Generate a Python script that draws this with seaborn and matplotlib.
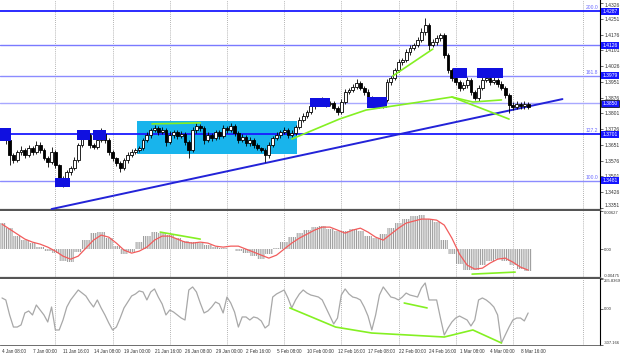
import numpy as np
import pandas as pd
import matplotlib.pyplot as plt
import seaborn as sns

sns.set_style("white")
plt.rcParams['font.family'] = ['Liberation Sans', 'DejaVu Sans']
plt.rcParams['hatch.linewidth'] = 0.7

# GBPUSD H4 - closes, one per 2 bars
closes = [1.3698, 1.3674, 1.3603, 1.3579, 1.3617, 1.3627, 1.3603, 1.3636, 1.3617, 1.3651,
          1.3627, 1.3589, 1.3570, 1.3617, 1.3556, 1.3494, 1.3475, 1.3522, 1.3541, 1.3579,
          1.3651, 1.3689, 1.3698, 1.3651, 1.3641, 1.3674, 1.3703, 1.3674, 1.3617, 1.3589,
          1.3565, 1.3541, 1.3579, 1.3603, 1.3617, 1.3627, 1.3636, 1.3674, 1.3698, 1.3722,
          1.3731, 1.3712, 1.3722, 1.3665, 1.3698, 1.3712, 1.3693, 1.3703, 1.3665, 1.3627,
          1.3722, 1.3741, 1.3731, 1.3674, 1.3698, 1.3684, 1.3712, 1.3693, 1.3731, 1.3722,
          1.3741, 1.3708, 1.3674, 1.3689, 1.3660, 1.3674, 1.3651, 1.3636, 1.3627, 1.3603,
          1.3651, 1.3684, 1.3698, 1.3712, 1.3722, 1.3698, 1.3708, 1.3736, 1.3770, 1.3789,
          1.3808, 1.3836, 1.3855, 1.3860, 1.3865, 1.3846, 1.3850, 1.3827, 1.3808, 1.3855,
          1.3903, 1.3912, 1.3927, 1.3946, 1.3922, 1.3903, 1.3874, 1.3846, 1.3855, 1.3841,
          1.3865, 1.3950, 1.3969, 1.4007, 1.4045, 1.4055, 1.4093, 1.4112, 1.4126, 1.4150,
          1.4188, 1.4221, 1.4126, 1.4140, 1.4160, 1.4174, 1.4079, 1.4007, 1.3969, 1.3950,
          1.3922, 1.3936, 1.3960, 1.3903, 1.3874, 1.3922, 1.3960, 1.3969, 1.3950, 1.3960,
          1.3941, 1.3922, 1.3888, 1.3841, 1.3831, 1.3846, 1.3836, 1.3846, 1.3831]
# wick lengths beyond the body, in pips
upper_wick = [10, 15, 20, 8, 12, 18, 10, 14, 8, 20,
              12, 10, 8, 22, 10, 6, 10, 12, 8, 14,
              10, 14, 8, 12, 10, 16, 29, 10, 8, 12,
              6, 8, 10, 12, 14, 10, 12, 8, 14, 10,
              14, 10, 12, 8, 18, 12, 10, 12, 10, 8,
              12, 16, 10, 8, 14, 10, 12, 8, 14, 12,
              14, 10, 8, 12, 10, 14, 8, 10, 6, 8,
              12, 10, 14, 12, 16, 10, 12, 10, 14, 12,
              10, 12, 14, 12, 16, 10, 12, 8, 10, 14,
              12, 10, 14, 18, 10, 8, 12, 10, 14, 8,
              12, 14, 10, 12, 14, 10, 16, 12, 10, 14,
              18, 33, 12, 14, 16, 10, 8, 10, 12, 10,
              8, 14, 16, 10, 8, 12, 14, 16, 12, 14,
              10, 12, 8, 10, 12, 14, 10, 12, 10]
lower_wick = [12, 20, 48, 14, 10, 12, 16, 10, 14, 10,
              14, 12, 24, 10, 14, 12, 24, 10, 12, 8,
              10, 8, 12, 14, 10, 8, 10, 12, 14, 16,
              14, 19, 10, 12, 8, 10, 12, 10, 8, 12,
              10, 12, 8, 20, 10, 12, 14, 10, 16, 38,
              10, 12, 14, 18, 10, 12, 8, 14, 10, 12,
              10, 14, 12, 10, 16, 12, 14, 10, 12, 33,
              12, 10, 8, 12, 10, 14, 10, 8, 10, 12,
              10, 8, 12, 10, 8, 14, 10, 12, 16, 10,
              8, 12, 10, 8, 12, 14, 12, 16, 10, 14,
              16, 10, 12, 8, 10, 14, 10, 12, 10, 8,
              10, 12, 24, 10, 12, 14, 16, 12, 14, 16,
              14, 10, 12, 14, 10, 12, 10, 8, 12, 10,
              14, 12, 16, 38, 12, 10, 14, 12, 10]

# MACD, one per 4 bars
macd_hist = [0.00428, 0.00345, 0.00214, 0.00148, 0.00099, 0.00033, -0.00033, -0.00066, -0.00197, -0.00214,
             -0.00049, 0.00148, 0.00263, 0.00280, 0.00181, 0.00049, -0.00082, -0.00049, 0.00115, 0.00214,
             0.00280, 0.00263, 0.00230, 0.00181, 0.00132, 0.00115, 0.00099, 0.00066, 0.00033, 0.00016,
             0.00000, -0.00033, -0.00066, -0.00115, -0.00165, -0.00082, 0.00016, 0.00115, 0.00197, 0.00263,
             0.00313, 0.00362, 0.00378, 0.00329, 0.00296, 0.00296, 0.00329, 0.00296, 0.00214, 0.00181,
             0.00247, 0.00345, 0.00428, 0.00494, 0.00543, 0.00559, 0.00494, 0.00444, 0.00148, -0.00082,
             -0.00247, -0.00345, -0.00345, -0.00263, -0.00197, -0.00165, -0.00197, -0.00263, -0.00329, -0.00362]
macd_signal = [0.00411, 0.00329, 0.00247, 0.00165, 0.00115, 0.00082, 0.00033, -0.00033, -0.00115, -0.00165,
               -0.00115, 0.00016, 0.00148, 0.00230, 0.00197, 0.00099, -0.00016, -0.00066, -0.00033, 0.00033,
               0.00148, 0.00214, 0.00214, 0.00165, 0.00115, 0.00099, 0.00115, 0.00099, 0.00049, 0.00033,
               0.00049, 0.00049, 0.00000, -0.00049, -0.00099, -0.00148, -0.00099, 0.00000, 0.00099, 0.00181,
               0.00247, 0.00313, 0.00362, 0.00362, 0.00313, 0.00263, 0.00313, 0.00345, 0.00280, 0.00197,
               0.00148, 0.00247, 0.00345, 0.00428, 0.00461, 0.00494, 0.00494, 0.00477, 0.00395, 0.00181,
               -0.00082, -0.00263, -0.00329, -0.00313, -0.00230, -0.00165, -0.00148, -0.00214, -0.00296, -0.00345]

# CCI, one per 2 bars
cci = [94, 77, -51, -154, -154, -136, -34, -17, -51, 34,
       -9, -51, -111, 17, -179, -179, -94, 17, 77, 119,
       162, 136, 111, 60, 17, 77, 9, -51, -119, -179,
       -154, -77, 9, 60, 111, 128, 154, 145, 77, 145,
       171, 102, 43, -51, -9, -26, -51, -77, -94, 162,
       188, 145, 51, -34, -17, 17, 60, 43, -34, 102,
       51, -26, -154, -68, -68, -94, -68, -77, -102, -162,
       -136, 102, 128, 145, 162, 94, 9, 77, 128, 162,
       136, 119, 111, 102, 77, 9, -60, -128, -77, 119,
       171, 128, 102, 94, 77, 17, -60, -179, -51, 119,
       188, 145, 102, 94, 77, 102, 136, 119, 111, 102,
       179, 222, 77, 77, 77, -77, -222, -162, -111, -77,
       -60, -77, -94, -145, -94, 77, 94, 77, 51, 17,
       -51, -290, -222, -154, -94, -77, -77, -102, -34]

time_labels = ['4 Jan 08:00', '7 Jan 00:00', '11 Jan 16:00', '14 Jan 08:00', '19 Jan 00:00',
               '21 Jan 16:00', '26 Jan 08:00', '29 Jan 00:00', '2 Feb 16:00', '5 Feb 08:00',
               '10 Feb 00:00', '12 Feb 16:00', '17 Feb 08:00', '22 Feb 00:00', '24 Feb 16:00',
               '1 Mar 08:00', '4 Mar 00:00', '8 Mar 16:00']
price_ticks = [1.4326, 1.4251, 1.4176, 1.4101, 1.4026, 1.3951, 1.3876, 1.3801, 1.3726,
               1.3651, 1.3576, 1.3501, 1.3426, 1.3351]
levels = [1.4287, 1.4126, 1.3979, 1.3850, 1.3701, 1.3481]
level_colors = ['#1a1aff', '#7a7aff', '#8c8cff', '#a8a8ff', '#1a1aff', '#8c8cff']
fib_names = {1.4287: '200.0', 1.3979: '161.8', 1.3701: '127.2', 1.3481: '100.0'}

# drawn objects (bar index, price)
trend_x, trend_y = [26, 294], [1.3346, 1.3869]
zone = (71, 155, 1.3608, 1.3765)
marks = [(-1, 4.7, 1.3670, 1.3731), (27.8, 35.7, 1.3451, 1.3494), (39.3, 46.2, 1.3674, 1.3722),
         (47.7, 54.6, 1.3674, 1.3722), (161.6, 172.1, 1.3831, 1.3874), (191.5, 202, 1.3827, 1.3879),
         (236.6, 244, 1.3969, 1.4017), (249.2, 262.9, 1.3969, 1.4017)]
green_price = [([78.7, 104], [1.3751, 1.3756]),
               ([152, 177, 191, 219, 236, 247, 262], [1.3679, 1.3774, 1.3817, 1.3855, 1.3879, 1.3855, 1.3865]),
               ([236, 266], [1.3879, 1.3774]),
               ([205, 226], [1.3979, 1.4107])]
green_macd = [([83, 104], [0.0028, 0.00165]), ([246.6, 269.2], [-0.00411, -0.00378])]
green_cci = [([151, 175, 194, 232, 247, 262], [9, -154, -205, -239, -179, -290]),
             ([211, 223], [51, 9])]

bars_c = np.arange(len(closes)) * 2
bars_m = np.arange(len(macd_hist)) * 4
grid_bars = [28, 58, 88, 118, 148, 178, 208, 238, 268, 305]

fig = plt.figure(figsize=(6.2, 3.57), dpi=100)
ax1 = fig.add_axes([0, 1 - 210 / 357, 600 / 620, 210 / 357])
ax2 = fig.add_axes([0, 1 - 278 / 357, 600 / 620, 67 / 357])
ax3 = fig.add_axes([0, 1 - 345 / 357, 600 / 620, 66 / 357])
xlim = (-1.05, 313.7)
fs = 3.6
txt = '#333333'

for ax in (ax1, ax2, ax3):
    ax.set_xlim(*xlim)
    for b in grid_bars:
        ax.axvline(b, color='#9a9a9a', lw=0.6, ls=(0, (1, 1.5)), zorder=0)
    for s in ('left', 'top'):
        ax.spines[s].set_visible(False)
    ax.spines['right'].set_color('black')
    ax.spines['right'].set_linewidth(0.8)
    ax.spines['bottom'].set_color('#555555')
    ax.spines['bottom'].set_linewidth(1.6)
    ax.yaxis.tick_right()
    ax.tick_params(axis='y', direction='out', length=2, width=0.5, pad=1, labelsize=fs, colors=txt)

# main price panel
ax1.set_ylim(1.33415, 1.43403)
x0, x1, y0, y1 = zone
ax1.add_patch(plt.Rectangle((x0, y0), x1 - x0, y1 - y0, color='#18b4ec', lw=0, zorder=1))
for lv, col in zip(levels, level_colors):
    ax1.axhline(lv, color=col, lw=1.3 if col == '#1a1aff' else 1.0, zorder=2)
    if lv in fib_names:
        ax1.text(0.997, lv + 0.0005, fib_names[lv], transform=ax1.get_yaxis_transform(),
                 ha='right', va='bottom', fontsize=fs, color='#6b6bff')
ax1.plot(trend_x, trend_y, color='#2323d8', lw=1.4, zorder=3)

opens = [closes[0]] + closes[:-1]
for b, o, c, uw, lw_ in zip(bars_c, opens, closes, upper_wick, lower_wick):
    lo, hi = min(o, c), max(o, c)
    ax1.vlines(b, lo - lw_ * 0.0001, hi + uw * 0.0001, color='black', lw=0.6, zorder=4)
    ax1.bar(b, max(hi - lo, 0.00015), bottom=lo, width=1.5, color='white' if c >= o else 'black',
            edgecolor='black', lw=0.6, zorder=4)

for bx0, bx1, by0, by1 in marks:
    ax1.add_patch(plt.Rectangle((bx0, by0), bx1 - bx0, by1 - by0, color='#1010e0', lw=0, zorder=5))
for gx, gy in green_price:
    ax1.plot(gx, gy, color='#84f022', lw=1.2, zorder=6)

ax1.set_yticks(price_ticks)
ax1.set_yticklabels([f'{p:.4f}' for p in price_ticks])
for lv in levels:
    ax1.text(1.004, lv, f'{lv:.4f}', transform=ax1.get_yaxis_transform(), ha='left', va='center',
             fontsize=fs, color='white', zorder=10,
             bbox=dict(boxstyle='square,pad=0.2', fc='#1515ff', ec='black' if lv == 1.3850 else 'none', lw=0.5),
             clip_on=False)
ax1.set_xticks([])

# MACD panel
ax2.set_ylim(-0.00475, 0.00627)
ax2.bar(bars_m, macd_hist, width=4.0, color='white', edgecolor='#999999', hatch='|' * 9, lw=0, zorder=1)
sig = pd.DataFrame({'bar': bars_m, 'signal': macd_signal})
sns.lineplot(data=sig, x='bar', y='signal', ax=ax2, color='#f25c5c', lw=0.9, zorder=3)
for gx, gy in green_macd:
    ax2.plot(gx, gy, color='#84f022', lw=1.2, zorder=4)
ax2.set_yticks([0.00627, 0.0, -0.00475])
ax2.set_yticklabels(['0.00627', '0.00', '-0.00475'])
ax2.set_xticks([])
ax2.set_xlabel('')
ax2.set_ylabel('')

# CCI panel
ax3.set_ylim(-307.166, 255.8369)
cdf = pd.DataFrame({'bar': bars_c, 'cci': cci})
sns.lineplot(data=cdf, x='bar', y='cci', ax=ax3, color='#a8a8a8', lw=0.9, zorder=2)
for gx, gy in green_cci:
    ax3.plot(gx, gy, color='#84f022', lw=1.2, zorder=4)
ax3.set_yticks([255.8369, 0.0, -307.166])
ax3.set_yticklabels(['255.8369', '0.00', '-307.166'])
ax3.spines['bottom'].set_linewidth(0.6)
ax3.set_xticks(np.arange(len(time_labels)) * 16)
ax3.set_xticklabels(time_labels, ha='left')
ax3.tick_params(axis='x', direction='out', length=2, width=0.5, pad=1, labelsize=3.3, colors=txt)
ax3.set_xlabel('')
ax3.set_ylabel('')

for ax in (ax1, ax2, ax3):
    labs = ax.get_yticklabels()
    labs[0].set_va('top')
    labs[-1].set_va('bottom')
for ax in (ax2, ax3):
    for lab in ax.get_yticklabels():
        lab.set_fontsize(3.0)

fig.savefig('out.png', dpi=100)
